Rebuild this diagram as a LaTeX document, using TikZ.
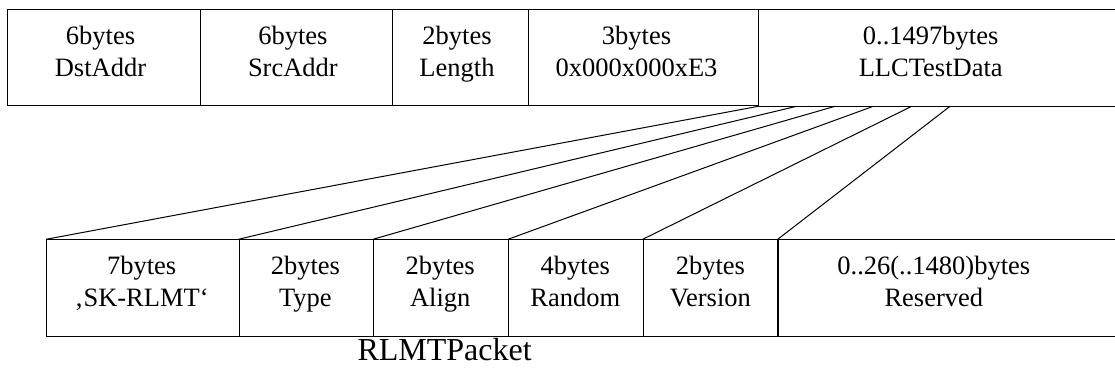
\documentclass[tikz,border=0pt]{standalone}
\usepackage{fontspec}
\setmainfont{Liberation Serif}
% two stacked lines, baseline on the first line
\newcommand{\fieldtext}[2]{\begin{tabular}[t]{@{}c@{}}#1\\#2\end{tabular}}
\begin{document}
\begin{tikzpicture}[x=1bp,y=-1bp,line width=1bp,
  cellbox/.style={draw,rectangle,inner sep=0pt,minimum height=96.3bp,anchor=north west},
  opencell/.style={rectangle,inner sep=0pt,minimum height=96.3bp,anchor=north west},
  fieldlabel/.style={anchor=base,inner sep=0pt,font=\fontsize{26.5bp}{31.7bp}\selectfont},
  fan/.style={draw,line width=1bp}]
\useasboundingbox (0,0) rectangle (1115,372);

% Ethernet / LLC frame
\node[cellbox,minimum width=192.7bp] (dst) at (7.3,9) {};
\node[cellbox,minimum width=192bp]   (src) at (200,9) {};
\node[cellbox,minimum width=135.5bp] (len) at (392,9) {};
\node[cellbox,minimum width=230.8bp] (sap) at (527.5,9) {};
\node[opencell,minimum width=356.7bp] (llc) at (758.3,9) {};
\draw (llc.north east) -- (llc.north west) -- (llc.south west) -- (llc.south east);

\node[fieldlabel] (tdst) at (100.5,44.3) {\fieldtext{6bytes}{DstAddr}};
\node[fieldlabel] (tsrc) at (292.9,44.3) {\fieldtext{6bytes}{SrcAddr}};
\node[fieldlabel] (tlen) at (457,44.3)   {\fieldtext{2bytes}{Length}};
\node[fieldlabel] (tsap) at (636.5,44.3) {\fieldtext{3bytes}{0x000x000xE3}};
\node[fieldlabel] (tllc) at (930.7,44.3) {\fieldtext{0..1497bytes}{LLCTestData}};

% RLMT packet carried in the LLC test data
\node[cellbox,minimum width=192.5bp] (sig)  at (46,239.3) {};
\node[cellbox,minimum width=134.5bp] (typ)  at (238.5,239.3) {};
\node[cellbox,minimum width=135bp]   (aln)  at (373,239.3) {};
\node[cellbox,minimum width=134.7bp] (rnd)  at (508,239.3) {};
\node[cellbox,minimum width=135bp]   (ver)  at (642.7,239.3) {};
\node[opencell,minimum width=337.3bp] (res) at (777.7,239.3) {};
\draw (res.north east) -- (res.north west) -- (res.south west) -- (res.south east);

\node[fieldlabel] (tsig) at (141.7,274.3) {\fieldtext{7bytes}{‚SK-RLMT‘}};
\node[fieldlabel] (ttyp) at (305.4,274.3) {\fieldtext{2bytes}{Type}};
\node[fieldlabel] (taln) at (440.2,274.3) {\fieldtext{2bytes}{Align}};
\node[fieldlabel] (trnd) at (575.3,274.3) {\fieldtext{4bytes}{Random}};
\node[fieldlabel] (tver) at (710.4,274.3) {\fieldtext{2bytes}{Version}};
\node[fieldlabel] (tres) at (933.8,274.3) {\fieldtext{0..26(..1480)bytes}{Reserved}};

\node[anchor=base,inner sep=0pt,font=\fontsize{32bp}{38bp}\selectfont] (caption) at (444.6,360) {RLMTPacket};

% fan-out from the LLC test data to the packet fields
\coordinate (f1) at ([xshift=38.3bp]llc.south west);
\coordinate (f2) at ([xshift=76.7bp]llc.south west);
\coordinate (f3) at ([xshift=115bp]llc.south west);
\coordinate (f4) at ([xshift=153.4bp]llc.south west);
\coordinate (f5) at ([xshift=191.7bp]llc.south west);
\draw[fan] (llc.south west) -- (sig.north west);
\draw[fan] (f1) -- (typ.north west);
\draw[fan] (f2) -- (aln.north west);
\draw[fan] (f3) -- (rnd.north west);
\draw[fan] (f4) -- (ver.north west);
\draw[fan] (f5) -- (res.north west);
\end{tikzpicture}
\end{document}
